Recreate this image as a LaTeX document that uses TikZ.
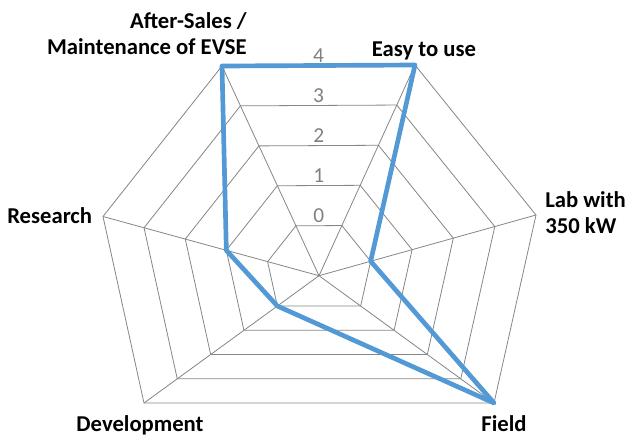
\documentclass[tikz,border=0pt]{standalone}
\usepackage{fontspec}
\setmainfont{Carlito}
\usepackage{tikz}
\usetikzlibrary{calc}
\definecolor{SeriesBlue}{HTML}{5299D6}
\definecolor{GridGray}{HTML}{868686}
\definecolor{TickGray}{HTML}{808080}

\begin{document}
\begin{tikzpicture}[
x=0.75pt,y=-0.75pt,
grid/.style={GridGray,line width=0.6pt},
series/.style={SeriesBlue,line width=3.5pt,line join=round},
cat/.style={font=\fontsize{17}{19.5}\selectfont\bfseries,inner sep=0pt},
tick/.style={TickGray,font=\fontsize{16}{19}\selectfont,inner sep=2pt,anchor=south}
]
\fill[white] (0,0) rectangle (627,437);
\useasboundingbox (0,0) rectangle (627,437);
\coordinate (O) at (319,275.7);
\coordinate (A) at (222,66);
\coordinate (E) at (415,65);
\coordinate (L) at (536,215);
\coordinate (F) at (494,403);
\coordinate (D) at (144,403);
\coordinate (R) at (103,216.5);
\coordinate (T) at ($(A)!0.5!(E)$);
% spokes
\foreach \v in {A,E,L,F,D,R}
  \draw[grid] (O) -- (\v);
% rings and axis values
\foreach \f/\n in {0.238/0,0.429/1,0.619/2,0.810/3,1/4} {
  \draw[grid] ($(O)!\f!(A)$) -- ($(O)!\f!(E)$) -- ($(O)!\f!(L)$) -- ($(O)!\f!(F)$)
    -- ($(O)!\f!(D)$) -- ($(O)!\f!(R)$) -- cycle;
  \node[tick] (t\n) at ($(O)!\f!(T)$) {\n};
}
% data
\draw[series] (A) -- (E) -- ($(O)!0.238!(L)$) -- (F) -- ($(O)!0.238!(D)$)
  -- ($(O)!0.429!(R)$) -- cycle;
% categories
\node[cat,align=right,anchor=south east] (aftersales) at (247,55) {After-Sales /\\Maintenance of EVSE};
\node[cat,anchor=base] (easy) at (424,56) {Easy to use};
\node[cat,align=left,anchor=south west] (lab) at (545,234) {Lab with\\350 kW};
\node[cat,anchor=base] (field) at (504,431) {Field};
\node[cat,anchor=base] (devel) at (140,431) {Development};
\node[cat,anchor=base west] (research) at (7,223) {Research};
\end{tikzpicture}
\end{document}
